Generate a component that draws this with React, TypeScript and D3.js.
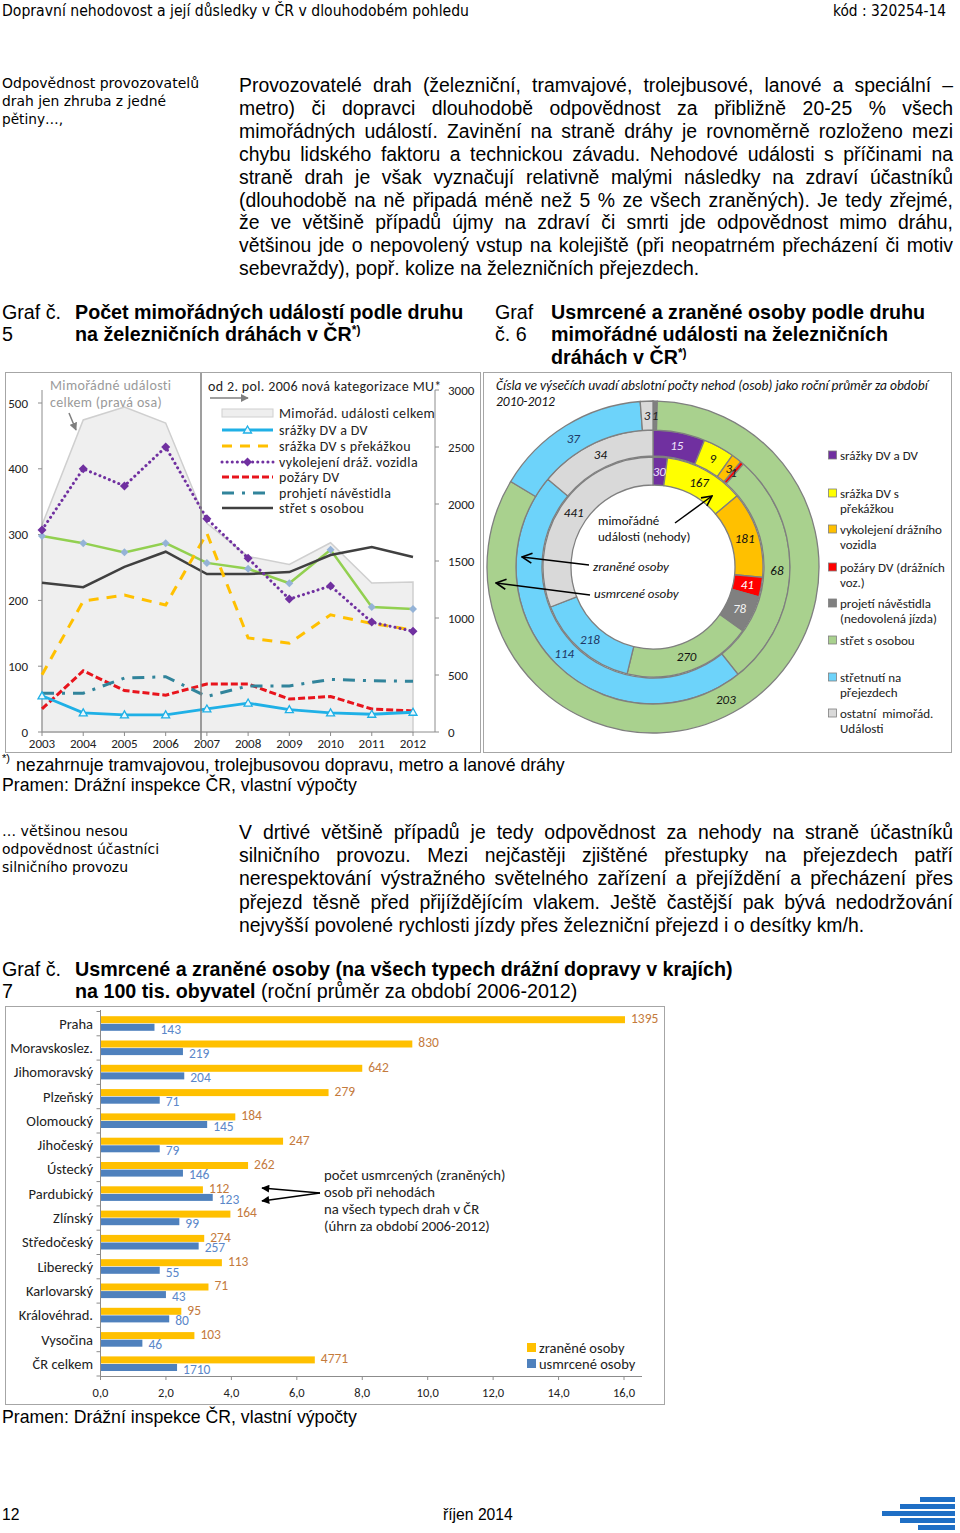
import React from "react";
import * as d3 from "d3";

const BODY = "'Liberation Sans', Arial, Helvetica, sans-serif";
const NARROW = "'Liberation Sans Narrow', 'Arial Narrow', 'DejaVu Sans Condensed', 'Liberation Sans', sans-serif";
const CAL = "Carlito, Calibri, Lato, 'Noto Sans', sans-serif";

// ---------------- page texts ----------------
const headerLeft = "Dopravní nehodovost a její důsledky v ČR v dlouhodobém pohledu";
const headerRight = "kód : 320254-14";
const sideNote1 = ["Odpovědnost provozovatelů", "drah jen zhruba z jedné", "pětiny…,"];
const para1 = [
  "Provozovatelé drah (železniční, tramvajové, trolejbusové, lanové a speciální –",
  "metro) či dopravci dlouhodobě odpovědnost za přibližně 20-25 % všech",
  "mimořádných událostí. Zavinění na straně dráhy je rovnoměrně rozloženo mezi",
  "chybu lidského faktoru a technickou závadu. Nehodové události s příčinami na",
  "straně drah je však vyznačují relativně malými následky na zdraví účastníků",
  "(dlouhodobě na ně připadá méně než 5 % ze všech zraněných). Je tedy zřejmé,",
  "že ve většině případů újmy na zdraví či smrti jde odpovědnost mimo dráhu,",
  "většinou jde o nepovolený vstup na kolejiště (při neopatrném přecházení či motiv",
  "sebevraždy), popř. kolize na železničních přejezdech.",
];
const sideNote2 = ["… většinou nesou", "odpovědnost účastníci", "silničního provozu"];
const para2 = [
  "V drtivé většině případů je tedy odpovědnost za nehody na straně účastníků",
  "silničního provozu. Mezi nejčastěji zjištěné přestupky na přejezdech patří",
  "nerespektování výstražného světelného zařízení a přejíždění a přecházení přes",
  "přejezd těsně před přijíždějícím vlakem. Ještě častější pak bývá nedodržování",
  "nejvyšší povolené rychlosti jízdy přes železniční přejezd i o desítky km/h.",
];

// ---------------- chart 5 data ----------------
const years = [2003, 2004, 2005, 2006, 2007, 2008, 2009, 2010, 2011, 2012];
const totalEvents = [1815, 2737, 2850, 2710, 1830, 1540, 1470, 1660, 1307, 1316];
const srazkyDV = [55, 29, 26, 26, 35, 44, 34, 29, 27, 30];
const srazkaPrekazka = [87, 199, 208, 193, 302, 143, 135, 178, 165, 155];
const vykolejeni = [307, 400, 374, 433, 324, 264, 202, 222, 167, 153];
const pozary = [35, 93, 63, 56, 73, 73, 50, 54, 35, 32];
const projeti = [59, 59, 82, 84, 54, 70, 70, 80, 78, 77];
const stretOsoba = [227, 220, 251, 274, 240, 240, 243, 269, 281, 266];
const stretnutiPrejezd = [298, 287, 273, 287, 257, 248, 226, 277, 190, 187];
const leftTicks = [0, 100, 200, 300, 400, 500];
const rightTicks = [0, 500, 1000, 1500, 2000, 2500, 3000];
const legend5Labels = [
  "Mimořád. události celkem",
  "srážky DV a DV",
  "srážka DV s překážkou",
  "vykolejení dráž. vozidla",
  "požáry DV",
  "prohjetí návěstidla",
  "střet s osobou",
];

// ---------------- chart 6 data ----------------
const donutCategories = [
  ["srážky DV a DV"],
  ["srážka DV s", "překážkou"],
  ["vykolejení drážního", "vozidla"],
  ["požáry DV (drážních", "voz.)"],
  ["projetí návěstidla", "(nedovolená jízda)"],
  ["střet s osobou"],
  ["střetnutí na", "přejezdech"],
  ["ostatní  mimořád.", "Události"],
];
const donutEvents = [30, 167, 181, 41, 78, 270, 218, 441];
const donutInjured = [15, 9, 3, 1, 0, 68, 114, 34];
const donutKilled = [0, 0, 0, 0, 1, 203, 37, 3];

// ---------------- chart 7 data ----------------
const regions = [
  "Praha", "Moravskoslez.", "Jihomoravský", "Plzeňský", "Olomoucký", "Jihočeský", "Ústecký",
  "Pardubický", "Zlínský", "Středočeský", "Liberecký", "Karlovarský", "Královéhrad.", "Vysočina", "ČR celkem",
];
const injuredRate = [16.03, 9.53, 8.0, 6.97, 4.12, 5.58, 4.51, 3.13, 3.97, 3.17, 3.71, 3.3, 2.47, 2.87, 6.55];
const killedRate = [1.65, 2.52, 2.56, 1.81, 3.26, 1.81, 2.52, 3.43, 2.41, 3.0, 1.81, 2.0, 2.1, 1.28, 2.34];
const injuredCount = [1395, 830, 642, 279, 184, 247, 262, 112, 164, 274, 113, 71, 95, 103, 4771];
const killedCount = [143, 219, 204, 71, 145, 79, 146, 123, 99, 257, 55, 43, 80, 46, 1710];
const rateTicks = [0, 2, 4, 6, 8, 10, 12, 14, 16];

// ---------------- helpers ----------------
let _ctx: CanvasRenderingContext2D | null = null;
function measure(t: string, font: string) {
  if (!_ctx) _ctx = document.createElement("canvas").getContext("2d");
  _ctx!.font = font;
  return _ctx!.measureText(t).width;
}

function JustLine({ text, x, y, width, size, justify }: any) {
  if (!justify)
    return (
      <text x={x} y={y} fontFamily={BODY} fontSize={size} fill="#000">
        {text}
      </text>
    );
  const font = `${size}px 'Liberation Sans', Arial`;
  const words = text.split(" ");
  const ws = words.map((w: string) => measure(w, font));
  const total = ws.reduce((a: number, b: number) => a + b, 0);
  const gap = (width - total) / (words.length - 1);
  let cx = x;
  return (
    <text y={y} fontFamily={BODY} fontSize={size} fill="#000">
      {words.map((w: string, i: number) => {
        const el = (
          <tspan key={i} x={cx}>
            {w}
          </tspan>
        );
        cx += ws[i] + gap;
        return el;
      })}
    </text>
  );
}

function Paragraph({ lines, x, y0, step, width, size }: any) {
  return (
    <g>
      {lines.map((l: string, i: number) => (
        <JustLine key={i} text={l} x={x} y={y0 + i * step} width={width} size={size} justify={i < lines.length - 1} />
      ))}
    </g>
  );
}

// ---------------- chart 5 ----------------
function Chart5() {
  const x = d3.scaleLinear().domain([2003, 2012]).range([42, 413]);
  const yL = d3.scaleLinear().domain([0, 500]).range([732, 403]);
  const yR = d3.scaleLinear().domain([0, 3000]).range([732, 390]);
  const area = d3
    .area<number>()
    .x((_, i) => x(years[i]))
    .y0(yR(0))
    .y1((d) => yR(d));
  const line = d3
    .line<number>()
    .x((_, i) => x(years[i]))
    .y((d) => yL(d));

  const series = [
    { data: stretnutiPrejezd, color: "#92d050", w: 2.5, dash: undefined, marker: "diamondLight" },
    { data: stretOsoba, color: "#404040", w: 2.5, dash: undefined, marker: null },
    { data: srazkaPrekazka, color: "#ffc000", w: 3, dash: "10 8", marker: null },
    { data: vykolejeni, color: "#7030a0", w: 3, dash: "0.1 5", marker: "diamond" },
    { data: pozary, color: "#e8141c", w: 3, dash: "7 3", marker: null },
    { data: projeti, color: "#31849b", w: 3, dash: "12 8 3 8", marker: null },
    { data: srazkyDV, color: "#1fb0e6", w: 2.8, dash: undefined, marker: "triangle" },
  ];

  const diamond = (cx: number, cy: number, r: number) => `M${cx},${cy - r}L${cx + r},${cy}L${cx},${cy + r}L${cx - r},${cy}Z`;
  const tri = (cx: number, cy: number, r: number) => `M${cx},${cy - r}L${cx + r},${cy + r * 0.75}L${cx - r},${cy + r * 0.75}Z`;

  const legendStyles = [
    null,
    { color: "#1fb0e6", dash: undefined, w: 2.8, marker: "triangle" },
    { color: "#ffc000", dash: "10 8", w: 3, marker: null },
    { color: "#7030a0", dash: "0.1 5", w: 3, marker: "diamond" },
    { color: "#e8141c", dash: "7 3", w: 3, marker: null },
    { color: "#31849b", dash: "12 8 3 8", w: 3, marker: null },
    { color: "#404040", dash: undefined, w: 2.5, marker: null },
  ];
  const legendRows = [413, 430, 446, 462, 477, 493, 508];
  const lblStyle = { fontFamily: CAL, fontSize: 14, letterSpacing: 0.35 } as any;

  return (
    <g>
      <rect x={5.5} y={372.5} width={475} height={380} fill="#fff" stroke="#a6a6a6" />
      <path d={area(totalEvents)!} fill="#efefef" stroke="#cfcfcf" strokeWidth={1.5} />
      {/* axes */}
      <line x1={42} x2={42} y1={390} y2={732} stroke="#8c8c8c" />
      <line x1={435} x2={435} y1={390} y2={732} stroke="#8c8c8c" />
      <line x1={42} x2={435} y1={732} y2={732} stroke="#8c8c8c" />
      {leftTicks.map((t) => (
        <g key={t}>
          <line x1={38} x2={42} y1={yL(t)} y2={yL(t)} stroke="#8c8c8c" />
          <text x={28} y={yL(t) + 4.5} textAnchor="end" fontFamily={CAL} fontSize={13} fill="#222">
            {t}
          </text>
        </g>
      ))}
      {rightTicks.map((t) => (
        <g key={t}>
          <line x1={435} x2={439} y1={yR(t)} y2={yR(t)} stroke="#8c8c8c" />
          <text x={448} y={yR(t) + 4.5} fontFamily={CAL} fontSize={13} fill="#222">
            {t}
          </text>
        </g>
      ))}
      {years.map((yr) => (
        <g key={yr}>
          <line x1={x(yr)} x2={x(yr)} y1={732} y2={736} stroke="#8c8c8c" />
          <text x={x(yr)} y={747.5} textAnchor="middle" fontFamily={CAL} fontSize={13} fill="#222">
            {yr}
          </text>
        </g>
      ))}
      {/* series */}
      {series.map((s, k) => (
        <g key={k}>
          <path
            d={line(s.data)!}
            fill="none"
            stroke={s.color}
            strokeWidth={s.w}
            strokeDasharray={s.dash}
            strokeLinecap={s.dash === "0.1 5" ? "round" : "butt"}
          />
          {s.marker &&
            s.data.map((v, i) => {
              const cx = x(years[i]);
              const cy = yL(v);
              if (s.marker === "diamond") return <path key={i} d={diamond(cx, cy, 4.5)} fill="#7030a0" />;
              if (s.marker === "diamondLight") return <path key={i} d={diamond(cx, cy, 4)} fill="#95b3d7" />;
              return <path key={i} d={tri(cx, cy, 4)} fill="#eaf7fd" stroke="#1fb0e6" strokeWidth={1.3} />;
            })}
        </g>
      ))}
      {/* 2006 split line */}
      <line x1={201} x2={201} y1={373} y2={740} stroke="#7f7f7f" strokeWidth={1.5} />
      {/* annotations */}
      <text x={50} y={390} {...lblStyle} fill="#9a9a9a">
        Mimořádné události
      </text>
      <text x={50} y={407} {...lblStyle} fill="#9a9a9a">
        celkem (pravá osa)
      </text>
      <line x1={69} y1={413} x2={76} y2={430} stroke="#7f7f7f" strokeWidth={1.5} markerEnd="url(#arrGray)" />
      <text x={208} y={391} {...lblStyle} fill="#222">
        od 2. pol. 2006 nová kategorizace MU*
      </text>
      <line x1={210} y1={398} x2={248} y2={398} stroke="#7f7f7f" strokeWidth={1.3} markerEnd="url(#arrGray)" />
      {/* legend */}
      {legend5Labels.map((lab, i) => {
        const y = legendRows[i];
        const st = legendStyles[i];
        return (
          <g key={i}>
            {st === null ? (
              <rect x={222} y={y - 4} width={51} height={8} fill="#eeeeee" stroke="#d0d0d0" />
            ) : (
              <g>
                <line
                  x1={222}
                  x2={273}
                  y1={y}
                  y2={y}
                  stroke={st.color}
                  strokeWidth={st.w}
                  strokeDasharray={st.dash}
                  strokeLinecap={st.dash === "0.1 5" ? "round" : "butt"}
                />
                {st.marker === "triangle" && <path d={tri(247.5, y, 4)} fill="#eaf7fd" stroke="#1fb0e6" strokeWidth={1.3} />}
                {st.marker === "diamond" && <path d={diamond(247.5, y, 4.5)} fill="#7030a0" />}
              </g>
            )}
            <text x={279} y={y + 5} {...lblStyle} fill="#222">
              {lab}
            </text>
          </g>
        );
      })}
    </g>
  );
}

// ---------------- chart 6 ----------------
const donutColors = ["#7030a0", "#ffff00", "#ffc000", "#ff0000", "#808080", "#a9d18e", "#6dd3fa", "#d9d9d9"];
const donutLabelColors = ["#efe4fa", "#111", "#111", "#fff", "#f4f4f4", "#111", "#1f3864", "#111"];

function Chart6() {
  const cx = 653;
  const cy = 567;
  const pie = d3
    .pie<number>()
    .sort(null)
    .value((d) => d)
    .startAngle(0)
    .endAngle(2 * Math.PI);
  const rings = [
    { data: donutEvents, r0: 82, r1: 110 },
    { data: donutInjured, r0: 111, r1: 137 },
    { data: donutKilled, r0: 137, r1: 166 },
  ];
  return (
    <g>
      <rect x={483.5} y={372.5} width={468} height={380} fill="#fff" stroke="#a6a6a6" />
      <text x={496} y={390} fontFamily={CAL} fontSize={13.5} fontStyle="italic" fill="#111">
        Čísla ve výsečích uvadí abslotní počty nehod (osob) jako roční průměr za období
      </text>
      <text x={496} y={406} fontFamily={CAL} fontSize={13.5} fontStyle="italic" fill="#111">
        2010-2012
      </text>
      <g transform={`translate(${cx},${cy})`}>
        {rings.map((ring, ri) => {
          const arc = d3.arc<d3.PieArcDatum<number>>().innerRadius(ring.r0).outerRadius(ring.r1);
          const arcs = pie(ring.data);
          return (
            <g key={ri}>
              {arcs.map((a, i) =>
                a.value > 0 ? (
                  <path key={i} d={arc(a)!} fill={donutColors[i]} stroke="#7f7f7f" strokeWidth={1.3} />
                ) : null
              )}
              {arcs.map((a, i) => {
                if (a.value <= 0) return null;
                const [lx, ly] = arc.centroid(a);
                const small = a.endAngle - a.startAngle < 0.11;
                return (
                  <text
                    key={"l" + i}
                    x={lx}
                    y={ly + 4.5}
                    textAnchor="middle"
                    fontFamily={CAL}
                    fontSize={13}
                    fontStyle="italic"
                    fill={small ? "#222" : donutLabelColors[i]}
                  >
                    {a.value}
                  </text>
                );
              })}
            </g>
          );
        })}
      </g>
      {/* inner annotations */}
      <text x={598} y={525} fontFamily={CAL} fontSize={13} fill="#111">
        mimořádné
      </text>
      <text x={598} y={541} fontFamily={CAL} fontSize={13} fill="#111">
        události (nehody)
      </text>
      <line x1={675} y1={523} x2={712} y2={496} stroke="#000" strokeWidth={1.5} markerEnd="url(#arrOpen)" />
      <text x={593} y={571} fontFamily={CAL} fontSize={13} fontStyle="italic" fill="#111">
        zraněné osoby
      </text>
      <line x1={589} y1={565} x2={522} y2={557} stroke="#000" strokeWidth={1.5} markerEnd="url(#arrOpen)" />
      <text x={594} y={598} fontFamily={CAL} fontSize={13} fontStyle="italic" fill="#111">
        usmrcené osoby
      </text>
      <line x1={590} y1={595} x2={496} y2={583} stroke="#000" strokeWidth={1.5} markerEnd="url(#arrOpen)" />
      {/* legend */}
      {donutCategories.map((lines, i) => {
        const rows = [455, 493, 529, 567, 603, 640, 677, 713];
        const y = rows[i];
        return (
          <g key={i}>
            <rect x={828.5} y={y - 4} width={8} height={8} fill={donutColors[i]} stroke="#7f7f7f" strokeWidth={0.8} />
            {lines.map((l, j) => (
              <text key={j} x={840} y={y + 4.5 + j * 15.5} fontFamily={CAL} fontSize={13} fill="#222" style={{ whiteSpace: "pre" }}>
                {l}
              </text>
            ))}
          </g>
        );
      })}
    </g>
  );
}

// ---------------- chart 7 ----------------
function Chart7() {
  const x = d3.scaleLinear().domain([0, 16.55]).range([100.5, 642]);
  const y = d3.scaleBand<string>().domain(regions).range([1011.5, 1376]);
  const fmt = (v: number) => d3.format(".1f")(v).replace(".", ",");
  const ann = ["počet usmrcených (zraněných)", "osob při nehodách", "na všech typech drah v ČR", "(úhrn za období 2006-2012)"];
  return (
    <g>
      <rect x={5.5} y={1006.5} width={659} height={398} fill="#fff" stroke="#a6a6a6" />
      {regions.map((r, i) => {
        const b = y(r)!;
        return (
          <g key={r}>
            <rect x={x(0)} y={b + 4.7} width={x(injuredRate[i]) - x(0)} height={7} fill="#ffc000" />
            <rect x={x(0)} y={b + 12.3} width={x(killedRate[i]) - x(0)} height={7} fill="#4f81bd" />
            <text x={x(injuredRate[i]) + 6} y={b + 11.5} fontFamily={CAL} fontSize={13.5} fill="#c47a3c">
              {injuredCount[i]}
            </text>
            <text x={x(killedRate[i]) + 6} y={b + 22} fontFamily={CAL} fontSize={13.5} fill="#5b87c9">
              {killedCount[i]}
            </text>
            <text x={93} y={b + y.bandwidth() / 2 + 5} textAnchor="end" fontFamily={CAL} fontSize={14.5} fill="#222">
              {r}
            </text>
          </g>
        );
      })}
      {/* axes */}
      <line x1={100.5} x2={100.5} y1={1010} y2={1376} stroke="#8c8c8c" />
      {regions.map((r) => (
        <line key={r} x1={96.5} x2={100.5} y1={y(r)!} y2={y(r)!} stroke="#8c8c8c" />
      ))}
      <line x1={96.5} x2={100.5} y1={1376} y2={1376} stroke="#8c8c8c" />
      <line x1={100.5} x2={642} y1={1376.5} y2={1376.5} stroke="#8c8c8c" />
      {rateTicks.map((t) => (
        <g key={t}>
          <line x1={x(t)} x2={x(t)} y1={1376} y2={1380} stroke="#8c8c8c" />
          <text x={x(t)} y={1397} textAnchor="middle" fontFamily={CAL} fontSize={12.5} fill="#222">
            {fmt(t)}
          </text>
        </g>
      ))}
      {/* annotation */}
      {ann.map((t, i) => (
        <text key={i} x={324} y={1179.5 + i * 17} fontFamily={CAL} fontSize={14.7} fill="#222">
          {t}
        </text>
      ))}
      <line x1={320} y1={1193} x2={262} y2={1188} stroke="#000" strokeWidth={1.5} markerEnd="url(#arrFill)" />
      <line x1={320} y1={1193} x2={262} y2={1201} stroke="#000" strokeWidth={1.5} markerEnd="url(#arrFill)" />
      {/* legend */}
      <rect x={527} y={1343} width={9} height={9} fill="#ffc000" />
      <text x={539} y={1352.5} fontFamily={CAL} fontSize={14.5} fill="#222">
        zraněné osoby
      </text>
      <rect x={527} y={1359} width={9} height={9} fill="#4f81bd" />
      <text x={539} y={1368.5} fontFamily={CAL} fontSize={14.5} fill="#222">
        usmrcené osoby
      </text>
    </g>
  );
}

export default function App() {
  const TS = 19.7; // title size
  const BS = 19.4; // body size
  return (
    <svg
      width={960}
      height={1533}
      viewBox="0 0 960 1533"
      style={{ display: "block", position: "absolute", left: 0, top: 0 }}
      xmlns="http://www.w3.org/2000/svg"
    >
      <defs>
        <marker id="arrOpen" viewBox="0 0 12 12" refX={11} refY={6} markerWidth={12} markerHeight={12} markerUnits="userSpaceOnUse" orient="auto">
          <path d="M1,1 L11,6 L1,11" fill="none" stroke="#000" strokeWidth={1.6} />
        </marker>
        <marker id="arrFill" viewBox="0 0 10 10" refX={9} refY={5} markerWidth={9} markerHeight={8} markerUnits="userSpaceOnUse" orient="auto">
          <path d="M0,0 L10,5 L0,10 Z" fill="#000" />
        </marker>
        <marker id="arrGray" viewBox="0 0 10 10" refX={9} refY={5} markerWidth={8} markerHeight={8} markerUnits="userSpaceOnUse" orient="auto">
          <path d="M0,0 L10,5 L0,10 Z" fill="#7f7f7f" />
        </marker>
      </defs>
      <rect width={960} height={1533} fill="#fff" />

      {/* header */}
      <text x={2} y={16} fontFamily={NARROW} fontSize={15} textLength={467} lengthAdjust="spacingAndGlyphs">
        {headerLeft}
      </text>
      <text x={833} y={16} fontFamily={NARROW} fontSize={15} textLength={113} lengthAdjust="spacingAndGlyphs">
        {headerRight}
      </text>

      {/* side note 1 + paragraph 1 */}
      {sideNote1.map((t, i) => (
        <text key={i} x={2} y={88 + i * 18} fontFamily={NARROW} fontSize={14.5} textLength={[197, 164, 61][i]} lengthAdjust="spacingAndGlyphs">
          {t}
        </text>
      ))}
      <Paragraph lines={para1} x={239} y0={92} step={22.9} width={714} size={BS} />

      {/* graph titles */}
      <text x={2} y={319} fontFamily={BODY} fontSize={TS}>Graf č.</text>
      <text x={2} y={341} fontFamily={BODY} fontSize={TS}>5</text>
      <text x={75} y={319} fontFamily={BODY} fontSize={TS} fontWeight="bold">
        Počet mimořádných událostí podle druhu
      </text>
      <text x={75} y={341} fontFamily={BODY} fontSize={TS} fontWeight="bold">
        na železničních dráhách v ČR
        <tspan fontSize={12} dy={-7}>*)</tspan>
      </text>
      <text x={495} y={319} fontFamily={BODY} fontSize={TS}>Graf</text>
      <text x={495} y={341} fontFamily={BODY} fontSize={TS}>č. 6</text>
      <text x={551} y={319} fontFamily={BODY} fontSize={TS} fontWeight="bold">
        Usmrcené a zraněné osoby podle druhu
      </text>
      <text x={551} y={341} fontFamily={BODY} fontSize={TS} fontWeight="bold">
        mimořádné události na železničních
      </text>
      <text x={551} y={364} fontFamily={BODY} fontSize={TS} fontWeight="bold">
        dráhách v ČR
        <tspan fontSize={12} dy={-7}>*)</tspan>
      </text>

      <Chart5 />
      <Chart6 />

      {/* footnote */}
      <text x={2} y={762} fontFamily={BODY} fontSize={11}>*)</text>
      <text x={16} y={771} fontFamily={BODY} fontSize={17.7}>
        nezahrnuje tramvajovou, trolejbusovou dopravu, metro a lanové dráhy
      </text>
      <text x={2} y={791} fontFamily={BODY} fontSize={17.7}>
        Pramen: Drážní inspekce ČR, vlastní výpočty
      </text>

      {/* side note 2 + paragraph 2 */}
      {sideNote2.map((t, i) => (
        <text key={i} x={2} y={836 + i * 18} fontFamily={NARROW} fontSize={14.5} textLength={[126, 157, 126][i]} lengthAdjust="spacingAndGlyphs">
          {t}
        </text>
      ))}
      <Paragraph lines={para2} x={239} y0={839} step={23.2} width={714} size={BS} />

      {/* graph 7 title */}
      <text x={2} y={976} fontFamily={BODY} fontSize={TS}>Graf č.</text>
      <text x={2} y={998} fontFamily={BODY} fontSize={TS}>7</text>
      <text x={75} y={976} fontFamily={BODY} fontSize={TS} fontWeight="bold">
        Usmrcené a zraněné osoby (na všech typech drážní dopravy v krajích)
      </text>
      <text x={75} y={998} fontFamily={BODY} fontSize={TS}>
        <tspan fontWeight="bold">na 100 tis. obyvatel</tspan> (roční průměr za období 2006-2012)
      </text>

      <Chart7 />

      <text x={2} y={1423} fontFamily={BODY} fontSize={17.7}>
        Pramen: Drážní inspekce ČR, vlastní výpočty
      </text>

      {/* footer */}
      <text x={2} y={1520} fontFamily={BODY} fontSize={15.7}>12</text>
      <text x={443} y={1520} fontFamily={BODY} fontSize={15.7}>říjen 2014</text>
      <g fill="#1f6fc5">
        <rect x={920} y={1497} width={35} height={5} />
        <rect x={900} y={1504} width={55} height={5} />
        <rect x={882} y={1511} width={73} height={5} />
        <rect x={900} y={1518} width={55} height={5} />
        <rect x={918} y={1525} width={37} height={5} />
      </g>
    </svg>
  );
}
